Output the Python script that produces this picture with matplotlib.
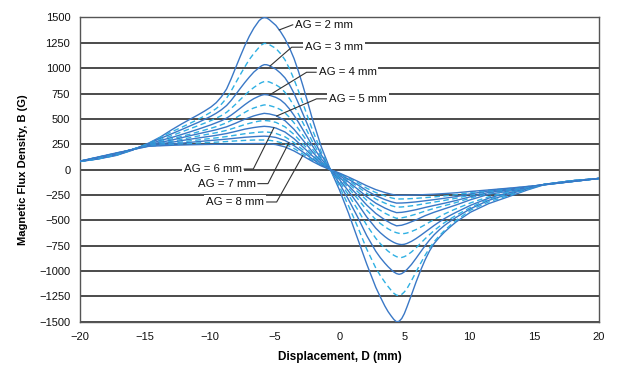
import numpy as np
import matplotlib
matplotlib.use("Agg")
import matplotlib.pyplot as plt

plt.rcParams['font.family'] = ['Liberation Sans', 'DejaVu Sans']

# Displacement D (mm): dense grid for the tall curves, coarser grid for the flat ones
displacement_fine = [-20, -18.6, -17.2, -16.0, -14.7, -13.8, -12.9, -12.2, -11.5, -10.9,
                     -10.4, -9.9, -9.5, -9.1, -8.7, -8.35, -8.0, -7.65, -7.3, -6.95,
                     -6.6, -6.2, -6.0, -5.8, -5.6, -5.4, -4.9, -4.55, -4.2, -3.85,
                     -3.5, -3.15, -2.8, -2.45, -2.1, -1.4, -0.7,
                     0.0, 0.7, 1.4, 2.1, 2.8, 3.15, 3.5, 3.75, 4.0, 4.2,
                     4.4, 4.6, 4.8, 5.0, 5.2, 5.55, 5.9, 6.25, 6.6, 6.95,
                     7.3, 7.7, 8.1, 8.55, 9.0, 10.1, 11.5, 12.4, 13.3, 14.5,
                     15.8, 17.9, 20]
displacement_coarse = [-20, -17.2, -14.7, -12.9, -11.5, -10.4, -9.5, -8.7, -8.0, -7.3,
                       -6.6, -6.2, -5.8, -5.4, -4.9, -4.2, -3.5, -2.8, -2.1, -1.4, -0.7,
                       0.0, 0.7, 1.4, 2.1, 2.8, 3.5, 4.0, 4.4, 4.8, 5.2,
                       5.9, 6.6, 7.3, 8.1, 9.0, 10.1, 11.5, 13.3, 15.8, 20]

air_gap_mm = [2, 2.5, 3, 3.5, 4, 4.5, 5, 5.5, 6, 6.5, 7, 7.5, 8]

# Magnetic flux density B (G)
b_ag2_0 = [80, 105, 140, 190, 262, 322, 395, 448, 498, 540,
           577, 618, 660, 718, 795, 895, 1005, 1115, 1220, 1315,
           1395, 1468, 1490, 1500, 1495, 1478, 1422, 1362, 1290, 1200,
           1095, 965, 820, 665, 505, 225, 0,
           -200, -430, -680, -930, -1160, -1255, -1345, -1400, -1445, -1478,
           -1500, -1495, -1468, -1420, -1355, -1235, -1110, -995, -890, -800,
           -728, -668, -615, -563, -515, -420, -335, -295, -255, -200,
           -148, -110, -87]
b_ag2_5 = [80, 106, 142, 192, 259, 318, 375, 415, 458, 495,
           530, 567, 602, 645, 705, 775, 855, 935, 1012, 1085,
           1145, 1205, 1230, 1245, 1242, 1232, 1195, 1145, 1083, 995,
           890, 772, 647, 522, 398, 174, 0,
           -165, -357, -563, -783, -970, -1045, -1110, -1153, -1192, -1220,
           -1238, -1242, -1230, -1206, -1174, -1095, -1010, -925, -845, -772,
           -710, -652, -600, -548, -500, -400, -318, -282, -245, -194,
           -145, -110, -87]
b_ag3_0 = [81, 107, 144, 193, 257, 308, 355, 393, 432, 465,
           495, 527, 556, 590, 632, 682, 740, 800, 858, 912,
           962, 1005, 1024, 1035, 1034, 1025, 990, 952, 905, 838,
           752, 650, 545, 440, 333, 146, 0,
           -137, -296, -467, -650, -805, -868, -922, -957, -988, -1010,
           -1025, -1032, -1025, -1008, -985, -935, -875, -812, -750, -693,
           -642, -593, -550, -508, -470, -385, -303, -267, -234, -188,
           -145, -110, -87]
b_ag3_5 = [81, 108, 146, 195, 254, 297, 336, 370, 404, 433,
           458, 484, 507, 533, 565, 603, 645, 690, 733, 774,
           810, 845, 859, 868, 870, 864, 836, 808, 762, 700,
           628, 545, 458, 370, 280, 123, 0,
           -115, -249, -393, -547, -677, -730, -775, -804, -828, -845,
           -858, -866, -866, -858, -845, -812, -772, -727, -682, -640,
           -600, -560, -522, -485, -450, -372, -292, -258, -228, -185,
           -145, -110, -87]
b_ag4_0 = [81, 110, 148, 198, 251, 287, 318, 345, 373, 398,
           420, 442, 462, 482, 508, 537, 570, 605, 640, 672,
           700, 724, 734, 740, 738, 734, 712, 688, 650, 598,
           535, 465, 390, 315, 238, 105, 0,
           -98, -212, -335, -466, -577, -622, -660, -684, -704, -718,
           -729, -736, -739, -736, -728, -707, -680, -649, -616, -583,
           -550, -515, -482, -450, -420, -352, -281, -248, -221, -182,
           -145, -110, -87]
b_ag4_5 = [82, 112, 150, 200, 249, 278, 304, 327, 350, 372,
           390, 408, 424, 442, 462, 485, 510, 537, 564, 589,
           608, 624, 632, 638, 637, 632, 613, 592, 560, 515,
           461, 400, 336, 272, 206, 90, 0,
           -84, -181, -286, -398, -493, -531, -563, -584, -601, -613,
           -622, -628, -631, -630, -625, -610, -591, -568, -543, -517,
           -492, -464, -437, -410, -385, -328, -268, -238, -213, -178,
           -145, -110, -87]
b_ag5_0 = [82, 152, 246, 292, 335, 367, 393, 422, 458, 497,
           530, 544, 555, 549, 533, 483, 397, 289, 178, 78, 0,
           -74, -159, -251, -349, -432, -495, -532, -554, -548, -532,
           -496, -454, -420, -386, -348, -297, -243, -207, -145, -87]
b_ag5_5 = [82, 155, 243, 280, 316, 343, 364, 387, 415, 444,
           468, 478, 485, 480, 466, 422, 347, 252, 155, 68, 0,
           -64, -138, -217, -302, -374, -429, -461, -480, -475, -465,
           -439, -409, -382, -355, -324, -280, -233, -201, -146, -87]
b_ag6_0 = [83, 157, 241, 270, 300, 321, 338, 356, 377, 399,
           415, 422, 427, 423, 410, 371, 305, 222, 137, 60, 0,
           -56, -122, -192, -267, -331, -379, -407, -424, -421, -413,
           -395, -373, -353, -331, -304, -267, -225, -196, -147, -87]
b_ag6_5 = [83, 159, 238, 260, 284, 300, 313, 326, 340, 354,
           364, 369, 372, 368, 357, 324, 266, 193, 119, 52, 0,
           -49, -106, -168, -233, -289, -330, -355, -370, -368, -363,
           -351, -335, -320, -303, -282, -251, -216, -191, -148, -87]
b_ag7_0 = [83, 161, 235, 252, 269, 282, 292, 301, 310, 319,
           325, 328, 330, 327, 317, 287, 236, 172, 106, 46, 0,
           -44, -95, -149, -208, -257, -295, -317, -330, -329, -326,
           -318, -307, -296, -282, -266, -239, -210, -187, -148, -87]
b_ag7_5 = [84, 163, 233, 245, 258, 266, 271, 277, 283, 288,
           292, 292, 292, 289, 280, 254, 209, 152, 93, 41, 0,
           -39, -83, -131, -183, -226, -259, -278, -290, -289, -288,
           -283, -276, -269, -259, -247, -226, -204, -183, -149, -87]
b_ag8_0 = [84, 165, 230, 240, 245, 248, 250, 252, 254, 256,
           257, 257, 257, 254, 247, 224, 184, 134, 82, 36, 0,
           -34, -73, -115, -159, -197, -226, -243, -253, -253, -252,
           -250, -246, -242, -236, -228, -215, -200, -180, -150, -87]

series = [
    (displacement_fine, b_ag2_0), (displacement_fine, b_ag2_5), (displacement_fine, b_ag3_0),
    (displacement_fine, b_ag3_5), (displacement_fine, b_ag4_0), (displacement_fine, b_ag4_5),
    (displacement_coarse, b_ag5_0), (displacement_coarse, b_ag5_5), (displacement_coarse, b_ag6_0),
    (displacement_coarse, b_ag6_5), (displacement_coarse, b_ag7_0), (displacement_coarse, b_ag7_5),
    (displacement_coarse, b_ag8_0),
]

x_ticks = [-20, -15, -10, -5, 0, 5, 10, 15, 20]
y_ticks = list(range(-1500, 1501, 250))

SOLID = '#3a78c6'
DASHED = '#2fb0e3'

fig = plt.figure(figsize=(6.2, 3.72), dpi=100)
ax = fig.add_axes([0.129, 0.135, 0.837, 0.818])

for y in y_ticks:
    ax.axhline(y, color='#1a1a1a', lw=1.1, zorder=1)

for ag, (xs, b) in zip(air_gap_mm, series):
    if float(ag).is_integer():
        ax.plot(xs, b, color=SOLID, lw=1.0, zorder=3)
    else:
        ax.plot(xs, b, color=DASHED, lw=1.0, ls=(0, (4, 2.5)), zorder=3)

# Labels with leader lines: (text, series index, x on curve, knee points, text pos, ha)
labels = [
    ("AG = 2 mm", 0, -4.64, [(-3.6, 1428)], (-3.4, 1421), 'left'),
    ("AG = 3 mm", 2, -5.35, [(-3.68, 1207), (-2.85, 1207)], (-2.65, 1207), 'left'),
    ("AG = 4 mm", 4, -5.41, [(-2.53, 960), (-1.8, 960)], (-1.6, 960), 'left'),
    ("AG = 5 mm", 6, -4.84, [(-1.76, 698), (-1.0, 698)], (-0.8, 698), 'left'),
    ("AG = 6 mm", 8, -5.05, [(-6.64, 6), (-7.35, 6)], (-7.5, 6), 'right'),
    ("AG = 7 mm", 10, -3.9, [(-5.51, -138), (-6.28, -138)], (-6.45, -138), 'right'),
    ("AG = 8 mm", 12, -2.84, [(-4.84, -319), (-5.61, -319)], (-5.8, -319), 'right'),
]
for text, si, xc, knees, tpos, ha in labels:
    sx, sb = series[si]
    yc = np.interp(xc, sx, sb)
    lx = [xc] + [p[0] for p in knees]
    ly = [yc] + [p[1] for p in knees]
    ax.plot(lx, ly, color='#333333', lw=0.8, zorder=6)
    ax.text(tpos[0], tpos[1], text, ha=ha, va='center', fontsize=8.2, color='#111111', zorder=5,
            bbox=dict(boxstyle='square,pad=0.15', fc='white', ec='none'))

ax.set_xlim(-20, 20)
ax.set_ylim(-1500, 1500)
ax.set_xticks(x_ticks)
ax.set_yticks(y_ticks)
ax.tick_params(axis='both', length=0, labelsize=8, colors='#111111')
ax.tick_params(axis='y', pad=7)
ax.tick_params(axis='x', pad=7)
for s in ax.spines.values():
    s.set_color('#555555')
    s.set_linewidth(1.0)

ax.set_xlabel("Displacement, D (mm)", fontsize=8.5, fontweight='bold', labelpad=7)
ax.set_ylabel("Magnetic Flux Density, B (G)", fontsize=8, fontweight='bold', labelpad=8)

fig.savefig("out.png", dpi=100)
